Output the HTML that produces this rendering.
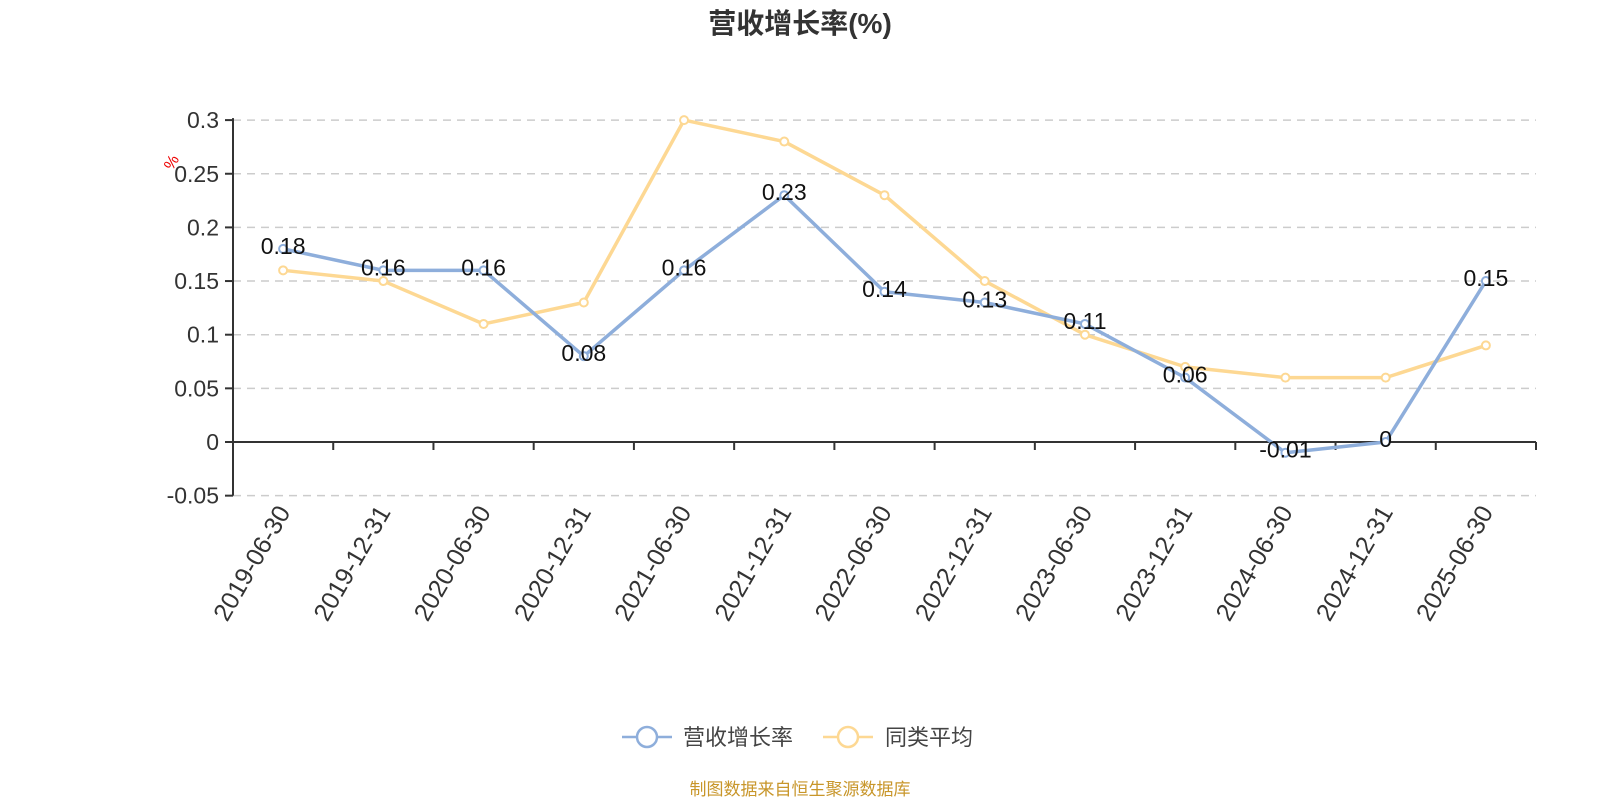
<!DOCTYPE html>
<html><head><meta charset="utf-8"><style>
body{margin:0;background:#fff;}
svg{display:block;font-family:"Liberation Sans","Noto Sans CJK SC",sans-serif;}
</style></head><body>
<svg id="chart" width="1600" height="800" viewBox="0 0 1600 800">
<text x="800" y="33" text-anchor="middle" font-size="28" font-weight="bold" fill="#333">营收增长率(%)</text>
<text x="176" y="165" font-size="16" fill="#e00" transform="rotate(-60 176 165)" text-anchor="middle">%</text>
<g id="grid"></g><g id="axes"></g><g id="series"></g><g id="labels"></g>
<g>
 <g>
  <line x1="622" y1="737" x2="672" y2="737" stroke="#8eaedb" stroke-width="2.5"/>
  <circle cx="647" cy="737" r="10" fill="#fff" stroke="#8eaedb" stroke-width="2.5"/>
  <text x="683" y="745" font-size="22" fill="#444">营收增长率</text>
 </g>
 <g>
  <line x1="823" y1="737" x2="873" y2="737" stroke="#fdd893" stroke-width="2.5"/>
  <circle cx="848" cy="737" r="10" fill="#fff" stroke="#fdd893" stroke-width="2.5"/>
  <text x="885" y="745" font-size="22" fill="#444">同类平均</text>
 </g>
</g>
<text x="800" y="795" text-anchor="middle" font-size="17" fill="#c8962a">制图数据来自恒生聚源数据库</text>
</svg>
<script>
const categories=["2019-06-30","2019-12-31","2020-06-30","2020-12-31","2021-06-30","2021-12-31","2022-06-30","2022-12-31","2023-06-30","2023-12-31","2024-06-30","2024-12-31","2025-06-30"];
const revenueGrowth=[0.18,0.16,0.16,0.08,0.16,0.23,0.14,0.13,0.11,0.06,-0.01,0,0.15];
const peerAverage=[0.16,0.15,0.11,0.13,0.30,0.28,0.23,0.15,0.10,0.07,0.06,0.06,0.09];
const yTicks=[0.3,0.25,0.2,0.15,0.1,0.05,0,-0.05];
const yTickLabels=["0.3","0.25","0.2","0.15","0.1","0.05","0","-0.05"];
const NS="http://www.w3.org/2000/svg";
const X0=233,X1=1536,Ypx0=442,pxPer=1073;
const step=(X1-X0)/categories.length;
const x=i=>X0+step*(i+0.5);
const y=v=>Ypx0-v*pxPer;
function mk(tag,attrs,parent){const e=document.createElementNS(NS,tag);for(const k in attrs)e.setAttribute(k,attrs[k]);parent.appendChild(e);return e;}
const grid=document.getElementById('grid'),axes=document.getElementById('axes'),series=document.getElementById('series'),labels=document.getElementById('labels');
yTicks.forEach((t,i)=>{
 if(t!==0){const g=mk('line',{x1:X0,x2:X1,y1:y(t),y2:y(t),stroke:'#ccc','stroke-width':1.5,'stroke-dasharray':'8,6'},grid);
 
 }
 const tk=mk('line',{x1:X0-8,x2:X0,y1:y(t),y2:y(t),stroke:'#333','stroke-width':2},axes);
 
 
 const tl=mk('text',{x:X0-14,y:y(t)+8,'text-anchor':'end','font-size':23,fill:'#333'},axes);
 tl.textContent=yTickLabels[i];
 
 
});
const ya=mk('line',{x1:X0,x2:X0,y1:y(0.3)-2,y2:y(-0.05),stroke:'#333','stroke-width':2},axes);


const xa=mk('line',{x1:X0,x2:X1,y1:y(0),y2:y(0),stroke:'#333','stroke-width':2},axes);


for(let i=0;i<=categories.length;i++){
 const t=mk('line',{x1:X0+step*i,x2:X0+step*i,y1:y(0),y2:y(0)+8,stroke:'#333','stroke-width':2},axes);
 
 
}
categories.forEach((c,i)=>{
 const tx=x(i)+8,ty=y(0)+70;
 const t=mk('text',{x:tx,y:ty,'text-anchor':'end','font-size':25,fill:'#333',transform:`rotate(-60 ${tx} ${ty})`},axes);
 t.textContent=c;
 
 
});
function drawSeries(vals,color,name,showLabels){
 const p=mk('polyline',{points:vals.map((v,i)=>x(i)+','+y(v)).join(' '),fill:'none',stroke:color,'stroke-width':3.5,'stroke-linejoin':'round'},series);
 
 
 vals.forEach((v,i)=>{
  const c=mk('circle',{cx:x(i),cy:y(v),r:4,fill:'#fff',stroke:color,'stroke-width':2},series);
  
  
  if(showLabels){
   const t=mk('text',{x:x(i),y:y(v)+5,'text-anchor':'middle','font-size':23,fill:'#111'},labels);
   t.textContent=String(v);
   
   
  }
 });
}
drawSeries(peerAverage,'#fdd893','peer-average',false);
drawSeries(revenueGrowth,'#8eaedb','revenue-growth',true);
</script>
</body></html>
